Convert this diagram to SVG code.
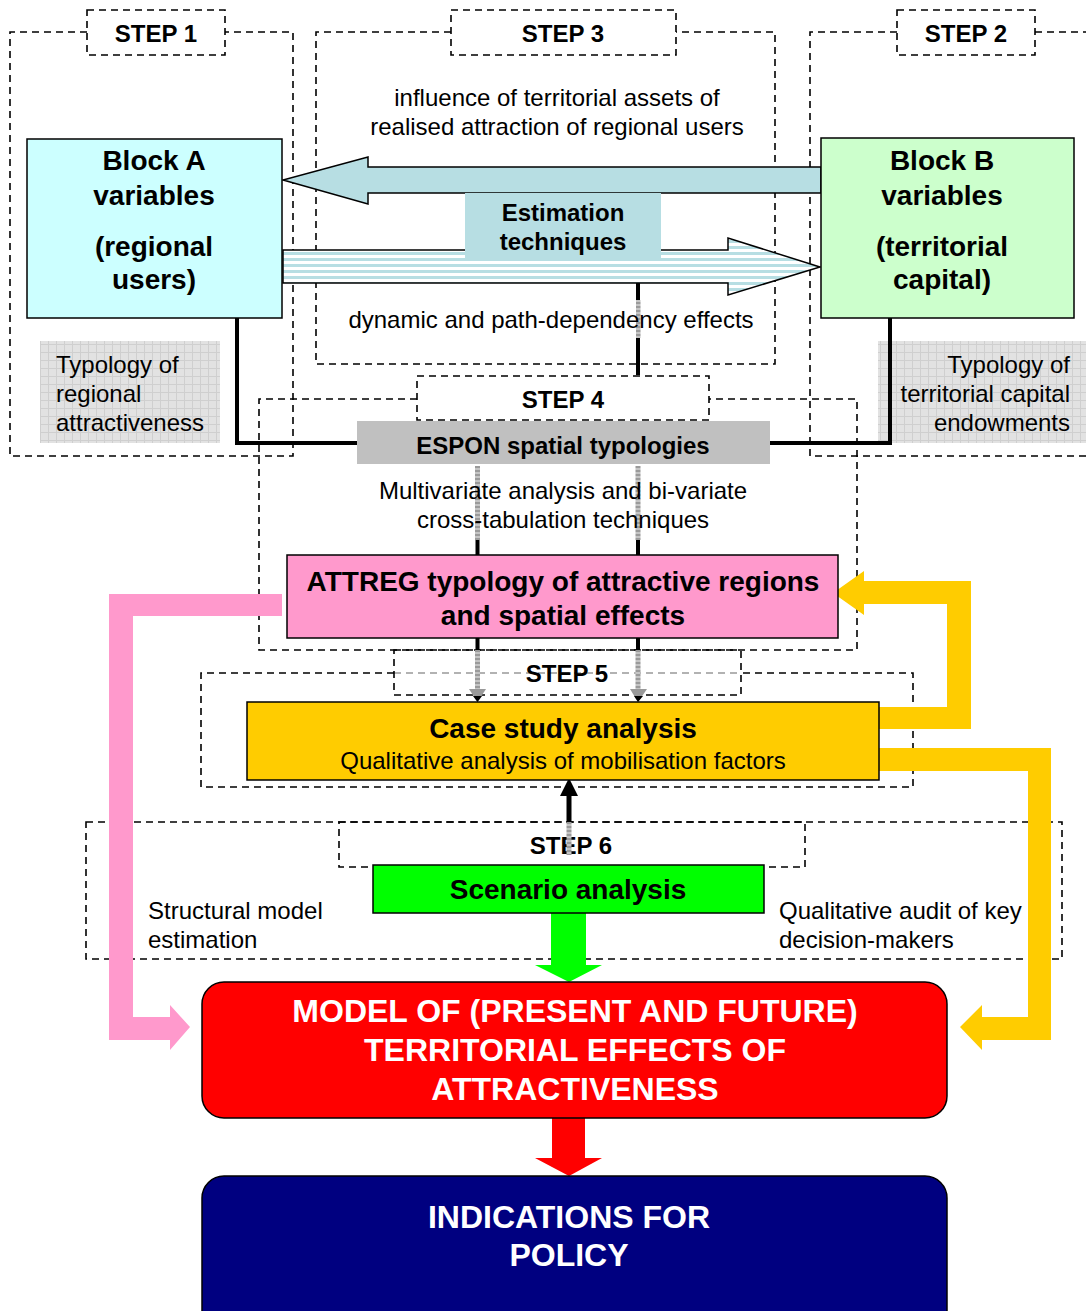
<svg xmlns="http://www.w3.org/2000/svg" width="1086" height="1311" viewBox="0 0 1086 1311">
<defs>
<style>
.dash{fill:none;stroke:#000;stroke-width:1.6;stroke-dasharray:7,5}
.t{font-family:"Liberation Sans",Arial,sans-serif;font-size:24px;fill:#000}
.b{font-family:"Liberation Sans",Arial,sans-serif;font-weight:bold;fill:#000}
.c{text-anchor:middle}
.w{fill:#fff}
.box{stroke:#000;stroke-width:1.5}
.conn{stroke:#000;stroke-width:4;fill:none}
</style>
<pattern id="stripes" width="8" height="6" patternUnits="userSpaceOnUse">
<rect width="8" height="6" fill="#ffffff"/>
<rect width="8" height="3" fill="#b7dee3"/>
</pattern>
<pattern id="grid" width="8" height="8" patternUnits="userSpaceOnUse">
<rect width="8" height="8" fill="#e2e2e2"/>
<path d="M0 0.5H8M0.5 0V8" stroke="#cfcfcf" stroke-width="1"/>
</pattern>
<pattern id="grayv" width="6" height="4" patternUnits="userSpaceOnUse">
<rect width="6" height="4" fill="#9a9a9a"/>
<rect width="6" height="2" fill="#c4c4c4"/>
</pattern>
</defs>
<rect width="1086" height="1311" fill="#fff"/>

<!-- step regions -->
<g id="step1">
<path class="dash" d="M87 32H10V456H293V32H225"/>
<rect class="dash" x="87" y="10" width="138" height="45"/>
<text class="b c" font-size="24" x="156" y="41.5">STEP 1</text>
</g>
<g id="step3">
<path class="dash" d="M451 32H316V364H775V32H676"/>
<rect class="dash" x="451" y="10" width="225" height="45"/>
<text class="b c" font-size="24" x="563" y="41.5">STEP 3</text>
</g>
<g id="step2">
<path class="dash" d="M897 32H810V456H1090"/>
<path class="dash" d="M1035 32H1090"/>
<rect class="dash" x="897" y="10" width="138" height="45"/>
<text class="b c" font-size="24" x="966" y="41.5">STEP 2</text>
</g>
<g id="step4">
<path class="dash" d="M417 399H259V650H857V399H709"/>
<rect class="dash" x="417" y="376" width="292" height="44"/>
<text class="b c" font-size="24" x="563" y="407.5">STEP 4</text>
</g>
<g id="step5">
<path class="dash" d="M394 673H201V787H913V673H741"/>
<path d="M394 673H741" fill="none" stroke="#999" stroke-width="1.5" stroke-dasharray="7,5"/>
<rect class="dash" x="394" y="650" width="347" height="45"/>
<text class="b c" font-size="24" x="567" y="681.5">STEP 5</text>
</g>
<g id="step6">
<rect class="dash" x="86" y="822" width="976" height="137"/>
<rect class="dash" x="339" y="822" width="466" height="45"/>
<text class="b c" font-size="24" x="571" y="853.5">STEP 6</text>
</g>

<g id="typologyA">
<rect x="40" y="341" width="180" height="102" fill="url(#grid)"/>
<text class="t" x="56" y="372.5">Typology of</text>
<text class="t" x="56" y="401.5">regional</text>
<text class="t" x="56" y="430.5">attractiveness</text>
</g>
<g id="typologyB">
<rect x="878" y="341" width="208" height="102" fill="url(#grid)"/>
<text class="t" text-anchor="end" x="1070" y="372.5">Typology of</text>
<text class="t" text-anchor="end" x="1070" y="401.5">territorial capital</text>
<text class="t" text-anchor="end" x="1070" y="430.5">endowments</text>
</g>

<!-- connectors -->
<g id="connectors">
<path class="conn" d="M237 318V443H357"/>
<path class="conn" d="M890 318V443H770"/>
<path class="conn" d="M638 283V300"/>
<rect x="636" y="300" width="4.5" height="38" fill="url(#grayv)"/>
<path class="conn" d="M638 338V375"/>
<rect x="475" y="466" width="5" height="74" fill="url(#grayv)"/>
<rect x="635.5" y="466" width="5" height="74" fill="url(#grayv)"/>
<path class="conn" d="M477.5 540V555M638 540V555" stroke-width="5"/>
<path class="conn" d="M477.5 638V650M638 638V650" stroke-width="5"/>
<rect x="475" y="650" width="5" height="40" fill="url(#grayv)"/>
<rect x="635.5" y="650" width="5" height="40" fill="url(#grayv)"/>
<path d="M469 689H486L477.5 702Z" fill="#999"/>
<path d="M473 696H482L477.5 702Z" fill="#000"/>
<path d="M630 689H647L638 702Z" fill="#999"/>
<path d="M634 696H643L638 702Z" fill="#000"/>
<rect x="566.5" y="822" width="5" height="33" fill="url(#grayv)"/>
<path d="M569 822V795" stroke="#000" stroke-width="5"/>
<path d="M560 796H578L569 778Z" fill="#000"/>
<!-- big blue left arrow -->
<path d="M821 167H368V157L283 180L368 204V193H821Z" fill="#b7dee3" stroke="#000" stroke-width="1.5"/>
<!-- striped right arrow -->
<path d="M283 250H728V238L820 267L728 295V283H283Z" fill="url(#stripes)" stroke="#000" stroke-width="1.5"/>
<!-- pink arrow -->
<path d="M282 594H109V1040H170V1050L190 1027L170 1005V1017H133V616H282Z" fill="#ff99cc"/>
<!-- yellow arrow to ATTREG -->
<path d="M879 707H947V604H864V615L833 593L864 571V581H971V729H879Z" fill="#ffcc00"/>
<!-- yellow arrow to model -->
<path d="M879 748H1051V1040H982V1050L960 1027L982 1005V1017H1028V771H879Z" fill="#ffcc00"/>
<!-- green arrow -->
<path d="M551 913H586V965H602L569 982L535 965H551Z" fill="#00ff00"/>
<!-- red arrow -->
<path d="M552 1118H585V1158H602L569 1176L535 1158H552Z" fill="#ff0000"/>
</g>

<!-- nodes -->
<g id="blockA">
<rect class="box" x="27" y="139" width="255" height="179" fill="#ccffff"/>
<text class="b c" font-size="28" x="154" y="170">Block A</text>
<text class="b c" font-size="28" x="154" y="205">variables</text>
<text class="b c" font-size="28" x="154" y="256">(regional</text>
<text class="b c" font-size="28" x="154" y="289">users)</text>
</g>
<g id="blockB">
<rect class="box" x="821" y="138" width="253" height="180" fill="#ccffcc"/>
<text class="b c" font-size="28" x="942" y="170">Block B</text>
<text class="b c" font-size="28" x="942" y="205">variables</text>
<text class="b c" font-size="28" x="942" y="256">(territorial</text>
<text class="b c" font-size="28" x="942" y="289">capital)</text>
</g>
<g id="influence">
<text class="t c" x="557" y="105.5">influence of territorial assets of</text>
<text class="t c" x="557" y="134.5">realised attraction of regional users</text>
</g>
<g id="estimation">
<rect x="465" y="193" width="196" height="67" fill="#b7dee3"/>
<text class="b c" font-size="24" x="563" y="220.5">Estimation</text>
<text class="b c" font-size="24" x="563" y="249.5">techniques</text>
</g>
<g id="dynamic">
<text class="t c" x="551" y="327.5">dynamic and path-dependency effects</text>
</g>
<g id="espon">
<rect x="357" y="421" width="413" height="43" fill="#c0c0c0"/>
<text class="b c" font-size="24" x="563" y="453.5">ESPON spatial typologies</text>
</g>
<g id="multivariate">
<text class="t c" x="563" y="498.5">Multivariate analysis and bi-variate</text>
<text class="t c" x="563" y="527.5">cross-tabulation techniques</text>
</g>
<g id="attreg">
<rect class="box" x="287" y="555" width="551" height="83" fill="#ff99cc"/>
<text class="b c" font-size="28" x="563" y="591">ATTREG typology of attractive regions</text>
<text class="b c" font-size="28" x="563" y="625">and spatial effects</text>
</g>
<g id="casestudy">
<rect class="box" x="247" y="702" width="632" height="78" fill="#ffcc00"/>
<text class="b c" font-size="28" x="563" y="738">Case study analysis</text>
<text class="t c" x="563" y="768.5">Qualitative analysis of mobilisation factors</text>
</g>
<g id="scenario">
<rect class="box" x="373" y="865" width="391" height="48" fill="#00ff00"/>
<text class="b c" font-size="28" x="568" y="899">Scenario analysis</text>
</g>
<g id="structural">
<text class="t" x="148" y="918.5">Structural model</text>
<text class="t" x="148" y="947.5">estimation</text>
</g>
<g id="audit">
<text class="t" x="779" y="918.5">Qualitative audit of key</text>
<text class="t" x="779" y="947.5">decision-makers</text>
</g>
<g id="model">
<rect class="box" x="202" y="982" width="745" height="136" rx="22" fill="#ff0000"/>
<text class="b c w" font-size="32" x="575" y="1021.5">MODEL OF (PRESENT AND FUTURE)</text>
<text class="b c w" font-size="32" x="575" y="1060.5">TERRITORIAL EFFECTS OF</text>
<text class="b c w" font-size="32" x="575" y="1099.5">ATTRACTIVENESS</text>
</g>
<g id="policy">
<rect class="box" x="202" y="1176" width="745" height="160" rx="22" fill="#000080"/>
<text class="b c w" font-size="32" x="569" y="1227.5">INDICATIONS FOR</text>
<text class="b c w" font-size="32" x="569" y="1265.5">POLICY</text>
</g>
</svg>
